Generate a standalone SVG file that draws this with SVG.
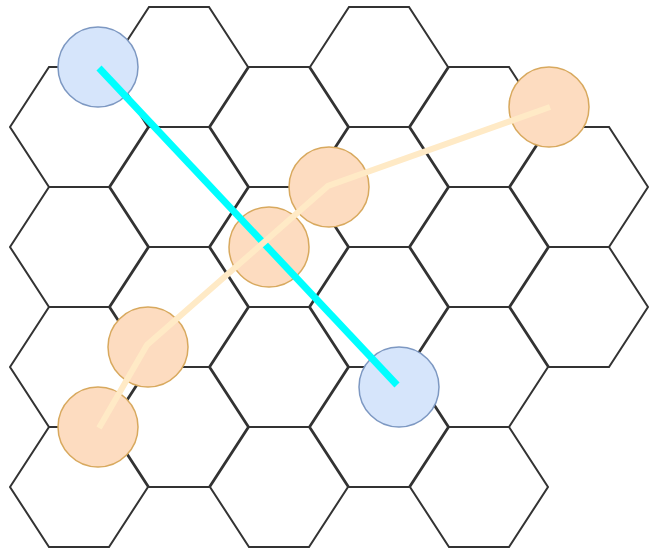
<svg xmlns="http://www.w3.org/2000/svg" xmlns:xlink="http://www.w3.org/1999/xlink" width="649" height="552" viewBox="0 0 649 552">
<style>
.hex{fill:#ffffff;stroke:#333333;stroke-width:2;stroke-linejoin:miter}
.blue{fill:#d6e5fb;stroke:#7d98c2;stroke-width:1.5}
.orange{fill:#fddcc0;stroke:#d8a95e;stroke-width:1.5}
.cyan{fill:none;stroke:#00ffff;stroke-width:7}
.path{fill:none;stroke:#ffeac6;stroke-width:6;stroke-linejoin:miter}
</style>
<defs>
<polygon id="h" class="hex" points="-69,0 -30,-60 30,-60 69,0 30,60 -30,60"/>
</defs>
<rect width="649" height="552" fill="#ffffff"/>
<g id="grid">
<g id="hex-0-127"><use xlink:href="#h" href="#h" x="79" y="127"/></g>
<g id="hex-0-247"><use xlink:href="#h" href="#h" x="79" y="247"/></g>
<g id="hex-0-367"><use xlink:href="#h" href="#h" x="79" y="367"/></g>
<g id="hex-0-487"><use xlink:href="#h" href="#h" x="79" y="487"/></g>
<g id="hex-1-67"><use xlink:href="#h" href="#h" x="179" y="67"/></g>
<g id="hex-1-187"><use xlink:href="#h" href="#h" x="179" y="187"/></g>
<g id="hex-1-307"><use xlink:href="#h" href="#h" x="179" y="307"/></g>
<g id="hex-1-427"><use xlink:href="#h" href="#h" x="179" y="427"/></g>
<g id="hex-2-127"><use xlink:href="#h" href="#h" x="279" y="127"/></g>
<g id="hex-2-247"><use xlink:href="#h" href="#h" x="279" y="247"/></g>
<g id="hex-2-367"><use xlink:href="#h" href="#h" x="279" y="367"/></g>
<g id="hex-2-487"><use xlink:href="#h" href="#h" x="279" y="487"/></g>
<g id="hex-3-67"><use xlink:href="#h" href="#h" x="379" y="67"/></g>
<g id="hex-3-187"><use xlink:href="#h" href="#h" x="379" y="187"/></g>
<g id="hex-3-307"><use xlink:href="#h" href="#h" x="379" y="307"/></g>
<g id="hex-3-427"><use xlink:href="#h" href="#h" x="379" y="427"/></g>
<g id="hex-4-127"><use xlink:href="#h" href="#h" x="479" y="127"/></g>
<g id="hex-4-247"><use xlink:href="#h" href="#h" x="479" y="247"/></g>
<g id="hex-4-367"><use xlink:href="#h" href="#h" x="479" y="367"/></g>
<g id="hex-4-487"><use xlink:href="#h" href="#h" x="479" y="487"/></g>
<g id="hex-5-187"><use xlink:href="#h" href="#h" x="579" y="187"/></g>
<g id="hex-5-307"><use xlink:href="#h" href="#h" x="579" y="307"/></g>
</g>
<g id="start-blue"><circle class="blue" cx="98" cy="67" r="40"/></g>
<g id="end-blue"><circle class="blue" cx="399" cy="387" r="40"/></g>
<g id="o1"><circle class="orange" cx="549" cy="107" r="40"/></g>
<g id="o2"><circle class="orange" cx="329" cy="187" r="40"/></g>
<g id="o3"><circle class="orange" cx="269" cy="247" r="40"/></g>
<g id="o4"><circle class="orange" cx="148" cy="347" r="40"/></g>
<g id="o5"><circle class="orange" cx="98" cy="427" r="40"/></g>
<g id="connectors">
<line class="cyan" x1="99" y1="68" x2="397" y2="385"/>
<polyline class="path" points="550,107 328,186 147,345 99,428"/>
</g>
</svg>
